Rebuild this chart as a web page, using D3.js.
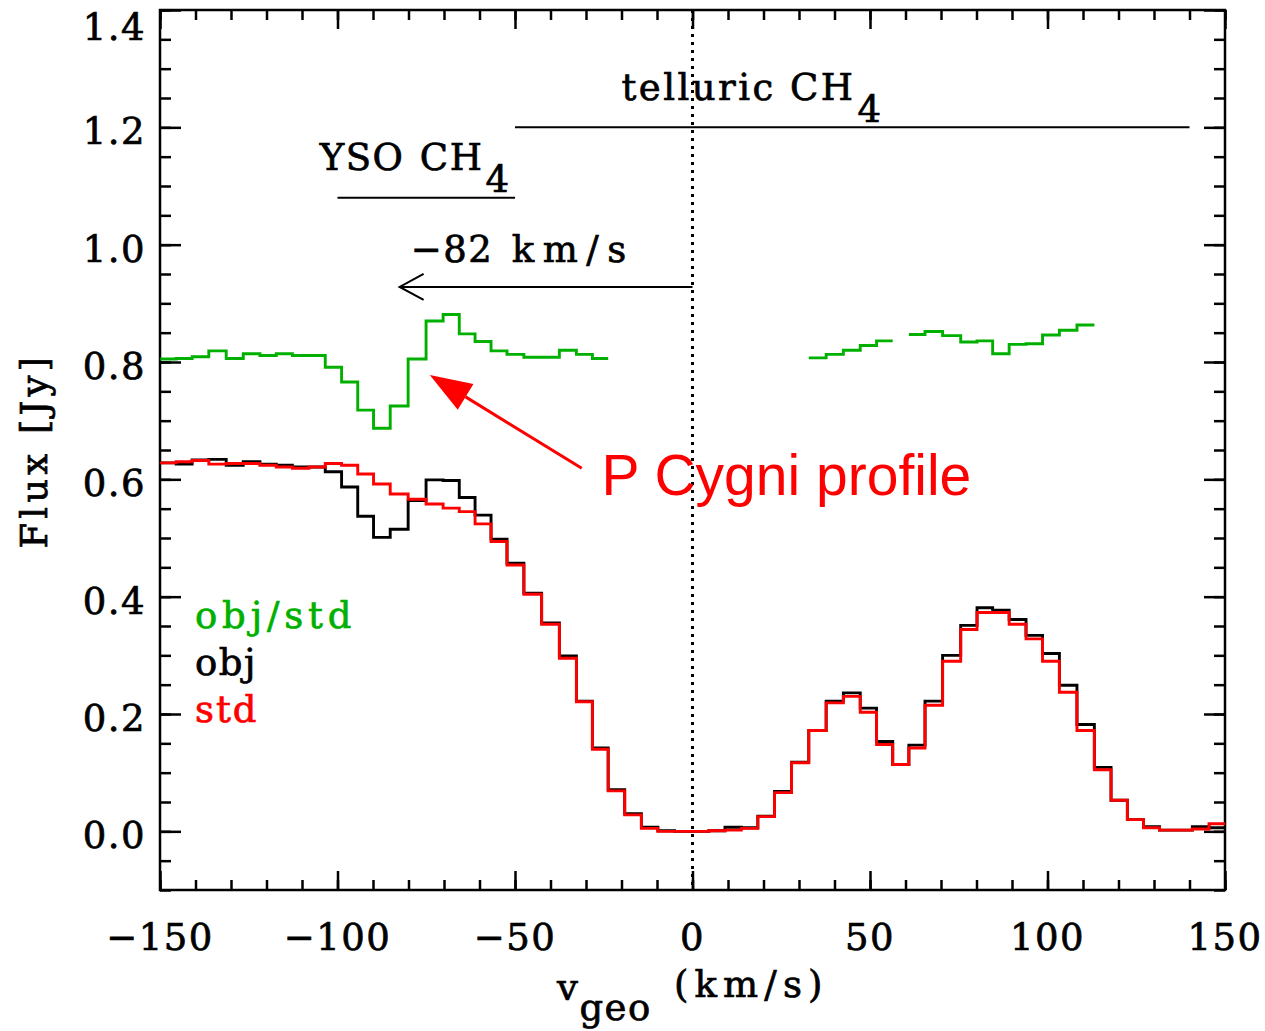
<!DOCTYPE html>
<html lang="en">
<head>
<meta charset="utf-8">
<title>P Cygni profile</title>
<script src="https://cdn.jsdelivr.net/npm/d3@7"></script>
<style>
  body { margin: 0; background: #fff; }
  .serif { font-family: "DejaVu Serif", serif; font-size: 37px; letter-spacing: 1.5px;
           fill: #000; stroke: #000; stroke-width: 0.7px; }
  .tick line { stroke: #000; stroke-width: 2.5px; }
  .step { fill: none; stroke-width: 2.9px; stroke-linejoin: miter; }
</style>
</head>
<body>
<script>
// bin centres (km/s) and fluxes
var vel = [-147.7,-143.2,-138.7,-133.8,-128.9,-124.2,-119.5,-115.0,-110.4,-105.7,
           -101.2,-96.5,-92.1,-87.6,-82.7,-77.5,-72.6,-67.9,-63.5,-59.0,
           -54.5,-50.0,-45.0,-40.0,-35.0,-30.4,-26.0,-21.5,-16.7,-12.1,
           -7.4,-2.7,2.3,6.9,11.4,16.1,20.7,25.5,30.3,35.2,
           40.1,44.9,49.6,54.1,58.7,63.2,67.8,73.1,78.0,82.3,
           86.8,91.6,96.3,100.9,105.8,110.8,115.6,120.2,124.8,129.3,
           133.8,138.5,143.1,147.9];

var obj = [0.628,0.626,0.633,0.634,0.624,0.630,0.626,0.624,0.621,0.621,
           0.613,0.587,0.537,0.501,0.515,0.564,0.599,0.598,0.569,0.539,
           0.498,0.457,0.406,0.355,0.299,0.222,0.142,0.071,0.030,0.007,
           0.001,0.000,0.000,0.001,0.007,0.006,0.026,0.068,0.118,0.172,
           0.222,0.236,0.210,0.153,0.114,0.147,0.222,0.300,0.351,0.381,
           0.377,0.361,0.334,0.303,0.249,0.182,0.109,0.053,0.020,0.008,
           0.002,0.002,0.008,0.006];

var std = [0.628,0.630,0.632,0.626,0.627,0.627,0.624,0.621,0.619,0.621,
           0.627,0.624,0.609,0.592,0.575,0.566,0.558,0.551,0.545,0.524,
           0.494,0.454,0.404,0.353,0.295,0.221,0.140,0.069,0.028,0.005,
           0.000,0.000,0.000,0.001,0.002,0.005,0.025,0.066,0.117,0.172,
           0.219,0.230,0.203,0.148,0.114,0.142,0.215,0.290,0.344,0.373,
           0.373,0.353,0.328,0.290,0.237,0.172,0.105,0.053,0.020,0.006,
           0.002,0.002,0.004,0.013];

// obj/std, blanked where telluric absorption is too deep
var ratio = [0.805,0.806,0.809,0.819,0.806,0.814,0.811,0.814,0.811,0.811,
             0.791,0.766,0.718,0.687,0.725,0.805,0.870,0.881,0.848,0.835,
             0.819,0.813,0.808,0.808,0.820,0.813,0.806,null,null,null,
             null,null,null,null,null,null,null,null,null,0.807,
             0.813,0.820,0.828,0.836,null,0.847,0.852,0.845,0.834,0.836,
             0.814,0.830,0.831,0.846,0.854,0.863,null,null,null,null,
             null,null,null,null];

var xMajor = [-150,-100,-50,0,50,100,150];
var yMajor = [0.0,0.2,0.4,0.6,0.8,1.0,1.2,1.4];
var legendNames = ["obj/std","obj","std"];
var legendColors = ["#00b000","#000000","#ff0000"];

var W = 1265, H = 1031;
var L = 160, R = 1225, T = 10, B = 890;

var x = d3.scaleLinear().domain([-150,150]).range([L,R]);
var y = d3.scaleLinear().domain([-0.1,1.4]).range([B,T]);

var svg = d3.select("body").append("svg").attr("width",W).attr("height",H);

svg.append("defs").append("clipPath").attr("id","plot")
   .append("rect").attr("x",L).attr("y",T).attr("width",R-L).attr("height",B-T);

// ticks (inward, on all four sides)
function ticks(axis, tr, vals, size) {
  var g = svg.append("g").attr("transform",tr)
     .call(axis.tickValues(vals).tickSize(-size).tickFormat(""));
  g.select(".domain").remove();
}
var xMinor = d3.range(-150,151,10), yMinor = d3.range(-0.1,1.401,0.05);
ticks(d3.axisBottom(x), "translate(0,"+B+")", xMinor, 10);
ticks(d3.axisBottom(x), "translate(0,"+B+")", xMajor, 19);
ticks(d3.axisTop(x), "translate(0,"+T+")", xMinor, 10);
ticks(d3.axisTop(x), "translate(0,"+T+")", xMajor, 19);
ticks(d3.axisLeft(y), "translate("+L+",0)", yMinor, 11);
ticks(d3.axisLeft(y), "translate("+L+",0)", yMajor, 21);
ticks(d3.axisRight(y), "translate("+R+",0)", yMinor, 11);
ticks(d3.axisRight(y), "translate("+R+",0)", yMajor, 21);

svg.append("rect").attr("x",L).attr("y",T).attr("width",R-L).attr("height",B-T)
   .attr("fill","none").attr("stroke","#000").attr("stroke-width",2.5);

// tick labels
svg.selectAll(".xl").data(xMajor).enter().append("text")
   .attr("class","serif").attr("text-anchor","middle")
   .attr("x", function(d){ return x(d); }).attr("y", 950)
   .text(function(d){ return d < 0 ? "\u2212" + Math.abs(d) : d; });

svg.selectAll(".yl").data(yMajor).enter().append("text")
   .attr("class","serif").attr("text-anchor","end")
   .attr("x", 146)
   .attr("y", function(d){ return Math.max(y(d), 23) + 17; })
   .text(function(d){ return d.toFixed(1); });

// axis titles
svg.append("text").attr("class","serif").attr("text-anchor","middle")
   .attr("transform","translate(47,452) rotate(-90)")
   .attr("textLength",193).attr("lengthAdjust","spacing")
   .text("Flux [Jy]");
var xt = svg.append("text").attr("class","serif").attr("x",557).attr("y",1000);
xt.append("tspan").text("v");
xt.append("tspan").attr("dy",20).text("geo");
svg.append("text").attr("class","serif").attr("x",674).attr("y",997)
   .attr("textLength",150).attr("lengthAdjust","spacing").text("(km/s)");

// zero-velocity line
svg.append("line").attr("x1",x(0)).attr("x2",x(0)).attr("y1",T).attr("y2",B)
   .attr("stroke","#000").attr("stroke-width",3).attr("stroke-dasharray","3,5");

// CH4 ranges
svg.append("line").attr("x1",x(-50)).attr("x2",x(140)).attr("y1",y(1.2)).attr("y2",y(1.2))
   .attr("stroke","#000").attr("stroke-width",2);
svg.append("line").attr("x1",x(-100)).attr("x2",x(-50)).attr("y1",y(1.08)).attr("y2",y(1.08))
   .attr("stroke","#000").attr("stroke-width",2);
var t1 = svg.append("text").attr("class","serif").attr("x",x(-20)).attr("y",y(1.2465));
t1.append("tspan").attr("textLength",233).attr("lengthAdjust","spacing").text("telluric CH");
t1.append("tspan").attr("dy",22).attr("dx",2).text("4");
var t2 = svg.append("text").attr("class","serif").attr("x",x(-105)).attr("y",y(1.127));
t2.append("tspan").text("YSO");
t2.append("tspan").attr("x",x(-76.8)).text("CH");
t2.append("tspan").attr("dy",22).attr("dx",2).text("4");

// -82 km/s arrow
var t3 = svg.append("text").attr("class","serif").attr("y",y(0.9705));
t3.append("tspan").attr("x",x(-79.4)).text("\u221282");
t3.append("tspan").attr("x",x(-50.9)).attr("textLength",116).attr("lengthAdjust","spacing")
  .text("km/s");
var ay = y(0.928), ax = x(-82.5);
svg.append("line").attr("x1",x(0)).attr("x2",ax).attr("y1",ay).attr("y2",ay)
   .attr("stroke","#000").attr("stroke-width",2);
svg.append("path").attr("d","M"+(ax+24)+","+(ay-13)+"L"+ax+","+ay+"L"+(ax+24)+","+(ay+13))
   .attr("fill","none").attr("stroke","#000").attr("stroke-width",2);

// spectra as histogram steps
function steps(vals) {
  var pts = [];
  vel.forEach(function(v,i) {
    var lo = i === 0 ? v - (vel[1]-vel[0])/2 : (vel[i-1]+v)/2;
    var hi = i === vel.length-1 ? v + (v-vel[i-1])/2 : (v+vel[i+1])/2;
    pts.push({v: lo, f: vals[i]}, {v: hi, f: vals[i]});
  });
  return pts;
}
var line = d3.line().defined(function(d){ return d.f != null; })
   .x(function(d){ return x(d.v); }).y(function(d){ return y(d.f); });

var series = [ratio, obj, std];
svg.append("g").attr("clip-path","url(#plot)")
   .selectAll("path").data(series).enter().append("path")
   .attr("class","step")
   .attr("stroke", function(d,i){ return legendColors[i]; })
   .attr("d", function(d){ return line(steps(d)); });

// legend
var legendWidths = [158, 62, 63];
svg.selectAll(".leg").data(legendNames).enter().append("text")
   .attr("class","serif")
   .attr("x",195).attr("y", function(d,i){ return 628 + i*47; })
   .attr("textLength", function(d,i){ return legendWidths[i]; }).attr("lengthAdjust","spacing")
   .style("fill", function(d,i){ return legendColors[i]; })
   .style("stroke", function(d,i){ return legendColors[i]; })
   .text(function(d){ return d; });

// P Cygni annotation
var tip = [x(-74), y(0.778)], tail = [x(-31.2), y(0.619)];
var ang = Math.atan2(tail[1]-tip[1], tail[0]-tip[0]);
var hl = 42, hw = 15;
var bx = tip[0] + hl*Math.cos(ang), by = tip[1] + hl*Math.sin(ang);
svg.append("line").attr("x1",tail[0]).attr("y1",tail[1]).attr("x2",bx).attr("y2",by)
   .attr("stroke","#ff0000").attr("stroke-width",3);
svg.append("path")
   .attr("d","M"+tip[0]+","+tip[1]
        +"L"+(bx - hw*Math.sin(ang))+","+(by + hw*Math.cos(ang))
        +"L"+(bx + hw*Math.sin(ang))+","+(by - hw*Math.cos(ang))+"Z")
   .attr("fill","#ff0000");
svg.append("text").attr("x",x(-25.6)).attr("y",495)
   .style("font-family","'Liberation Sans', Arial, sans-serif").style("font-size","57px")
   .style("fill","#ff0000").text("P Cygni profile");
</script>
</body>
</html>
